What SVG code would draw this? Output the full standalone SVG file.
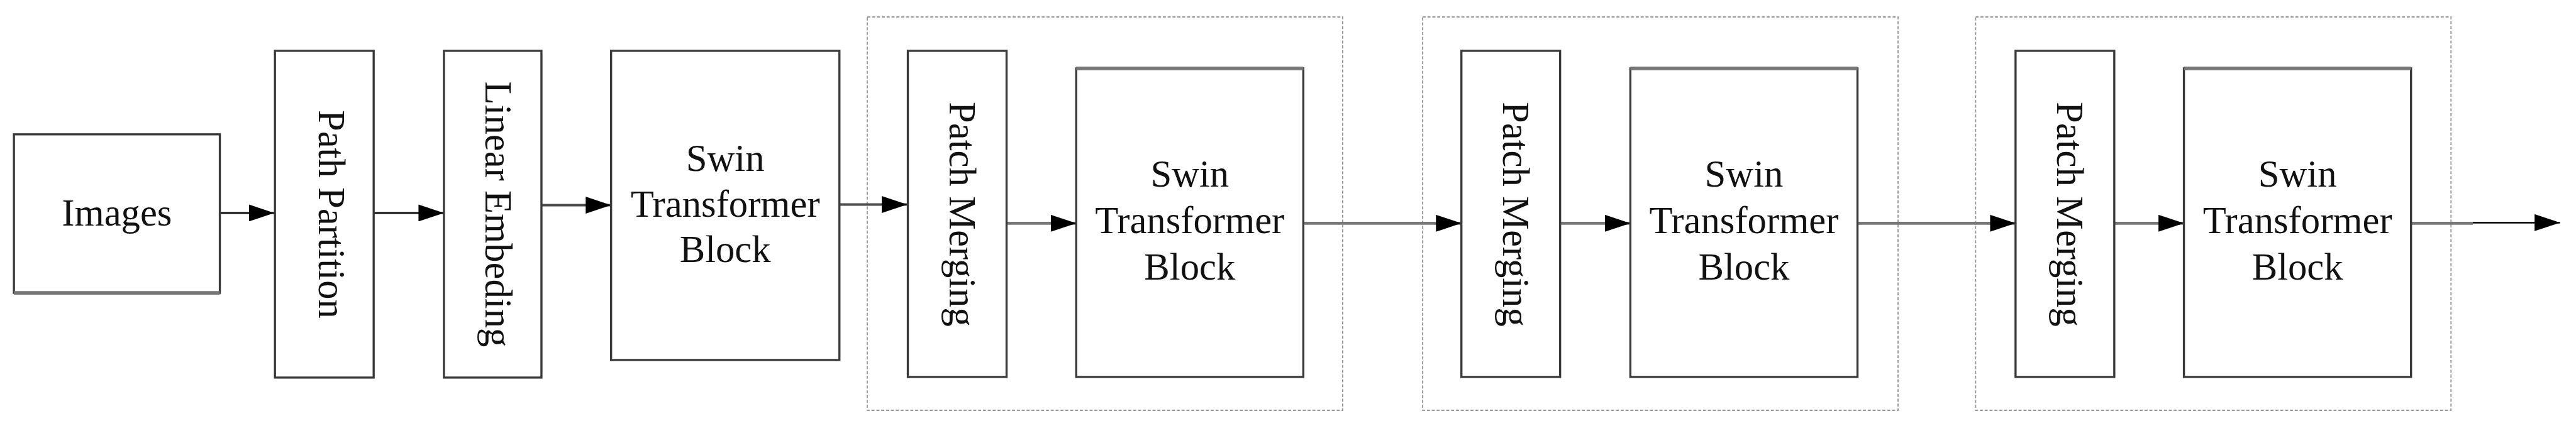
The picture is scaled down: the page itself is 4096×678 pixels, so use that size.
<svg xmlns="http://www.w3.org/2000/svg" width="4096" height="678" viewBox="0 0 4096 678">
<style>
.box{fill:#fff;stroke:#3a3a3a;stroke-width:3.5}
.grp{fill:none;stroke:#9a9a9a;stroke-width:2;stroke-dasharray:5 3}
.lbl{font-family:"Liberation Serif","Times New Roman",serif;font-size:63px;fill:#111;text-anchor:middle}
.thin{stroke:#111;stroke-width:3;fill:none}
.mid{stroke:#4a4a4a;stroke-width:4;fill:none}
.thick{stroke:#777;stroke-width:5;fill:none}
.edge{stroke:#777;stroke-width:6}
</style>
<defs>
<marker id="ah" markerUnits="userSpaceOnUse" markerWidth="42" markerHeight="28" refX="42" refY="14" orient="auto" viewBox="0 0 42 28">
<path d="M0,0 L42,14 L0,28 z" fill="#000"/>
</marker>
</defs>
<rect width="4096" height="678" fill="#fff"/>
<g transform="scale(0.963)">
<g id="groups">
<rect id="stage2" class="grp" x="1432" y="28" width="785" height="650"/>
<rect id="stage3" class="grp" x="2349" y="28" width="785" height="650"/>
<rect id="stage4" class="grp" x="3262" y="28" width="785" height="650"/>
</g>
<g id="connectors">
<line class="thin" x1="363" y1="352" x2="453" y2="352" marker-end="url(#ah)"/>
<line class="thin" x1="617" y1="352" x2="733" y2="352" marker-end="url(#ah)"/>
<line class="mid" x1="894" y1="339" x2="1009" y2="339" marker-end="url(#ah)"/>
<line class="mid" x1="1386" y1="338" x2="1498" y2="338" marker-end="url(#ah)"/>
<line class="thick" x1="1662" y1="369" x2="1777" y2="369" marker-end="url(#ah)"/>
<line class="thick" x1="2152" y1="369" x2="2413" y2="369" marker-end="url(#ah)"/>
<line class="thick" x1="2576" y1="369" x2="2692" y2="369" marker-end="url(#ah)"/>
<line class="thick" x1="3067" y1="369" x2="3328" y2="369" marker-end="url(#ah)"/>
<line class="thick" x1="3491" y1="369" x2="3606" y2="369" marker-end="url(#ah)"/>
<line class="thick" x1="3981" y1="369" x2="4083" y2="369"/>
<line class="thin" x1="4083" y1="368" x2="4227" y2="368" marker-end="url(#ah)"/>
</g>
<g id="images">
<rect class="box" x="23" y="222" width="340" height="262"/>
<line class="edge" x1="23" y1="484" x2="363" y2="484"/>
<text class="lbl" x="193" y="373">Images</text>
</g>
<g id="path-partition">
<rect class="box" x="454" y="84" width="163" height="540"/>
<text class="lbl" transform="translate(526,354) rotate(90)">Path Partition</text>
</g>
<g id="linear-embeding">
<rect class="box" x="733" y="84" width="161" height="540"/>
<text class="lbl" transform="translate(802,354) rotate(90)">Linear Embeding</text>
</g>
<g id="swin1">
<rect class="box" x="1009" y="84" width="377" height="511"/>
<text class="lbl" x="1197.5" y="282">Swin</text>
<text class="lbl" x="1197.5" y="358">Transformer</text>
<text class="lbl" x="1197.5" y="433">Block</text>
</g>
<g id="patch-merging1">
<rect class="box" x="1499" y="84" width="163" height="539"/>
<text class="lbl" transform="translate(1568,354) rotate(90)">Patch Merging</text>
</g>
<g id="swin2">
<rect class="box" x="1777" y="113" width="375" height="510"/>
<line class="edge" x1="1777" y1="113" x2="2152" y2="113"/>
<text class="lbl" x="1964.5" y="308">Swin</text>
<text class="lbl" x="1964.5" y="385">Transformer</text>
<text class="lbl" x="1964.5" y="462">Block</text>
</g>
<g id="patch-merging2">
<rect class="box" x="2413" y="84" width="163" height="539"/>
<text class="lbl" transform="translate(2482,354) rotate(90)">Patch Merging</text>
</g>
<g id="swin3">
<rect class="box" x="2692" y="113" width="375" height="510"/>
<line class="edge" x1="2692" y1="113" x2="3067" y2="113"/>
<text class="lbl" x="2879.5" y="308">Swin</text>
<text class="lbl" x="2879.5" y="385">Transformer</text>
<text class="lbl" x="2879.5" y="462">Block</text>
</g>
<g id="patch-merging3">
<rect class="box" x="3328" y="84" width="163" height="539"/>
<text class="lbl" transform="translate(3397,354) rotate(90)">Patch Merging</text>
</g>
<g id="swin4">
<rect class="box" x="3606" y="113" width="375" height="510"/>
<line class="edge" x1="3606" y1="113" x2="3981" y2="113"/>
<text class="lbl" x="3793.5" y="308">Swin</text>
<text class="lbl" x="3793.5" y="385">Transformer</text>
<text class="lbl" x="3793.5" y="462">Block</text>
</g>
</g>
</svg>
